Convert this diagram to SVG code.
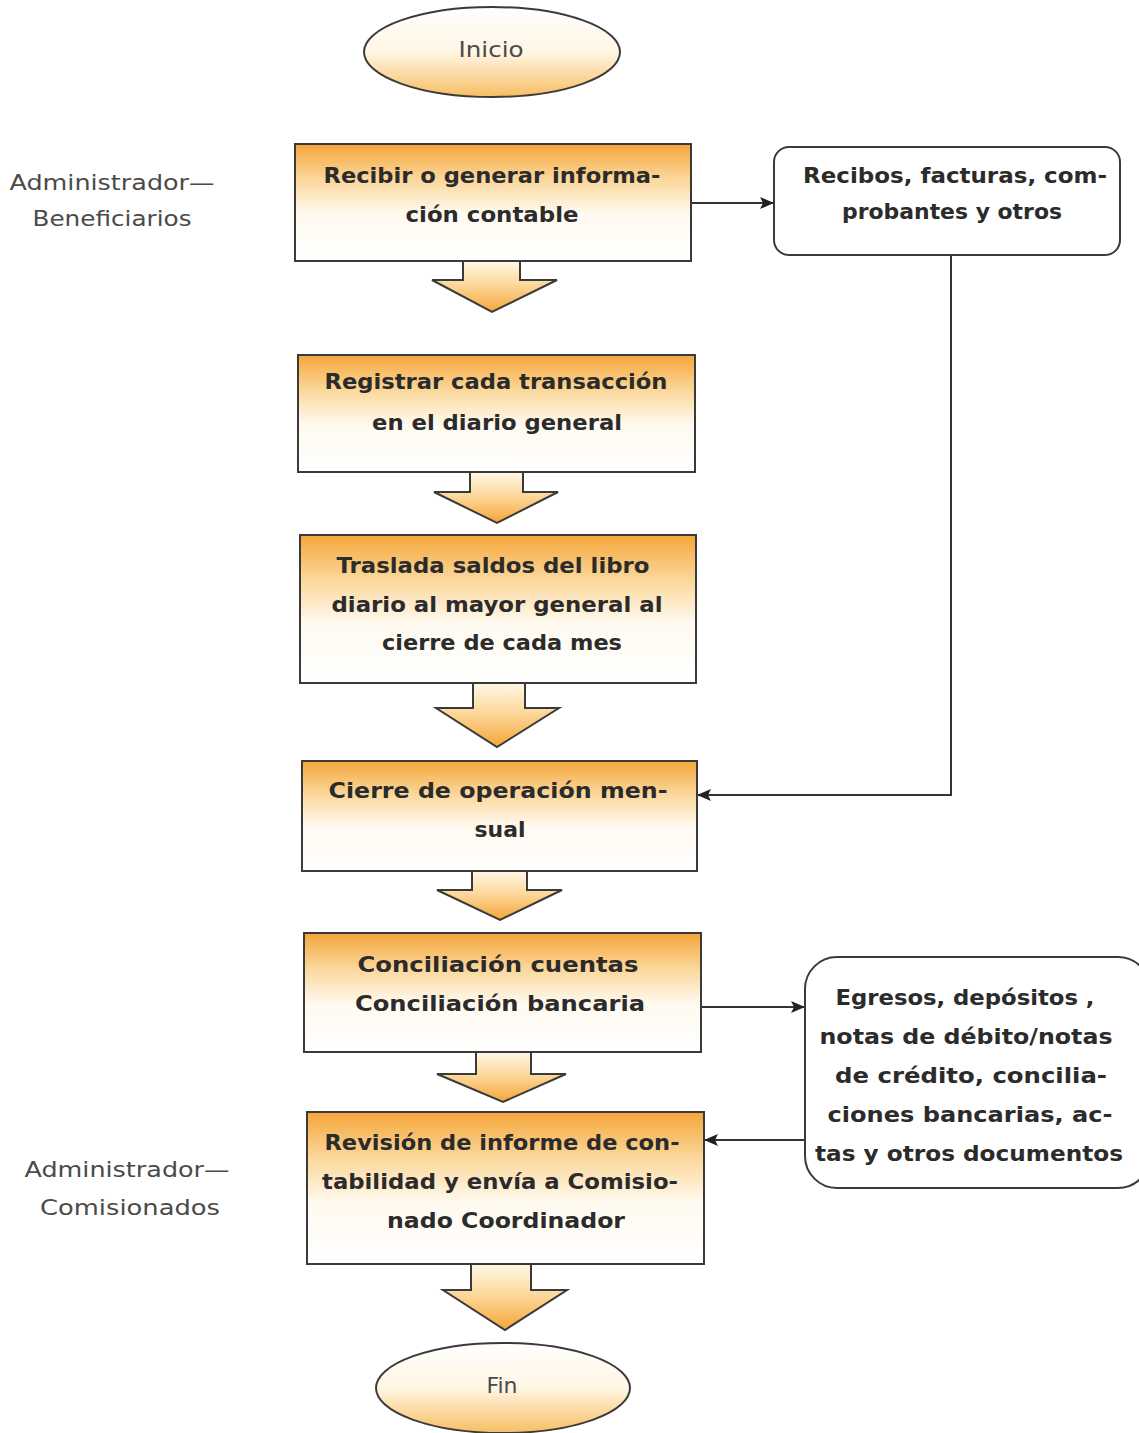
<svg xmlns="http://www.w3.org/2000/svg" width="1139" height="1433" viewBox="0 0 1139 1433">
<style>
.box{stroke:#3a3a3a;stroke-width:2;fill:url(#gBox)}
.arr{stroke:#3a3a3a;stroke-width:2;fill:url(#gArr);stroke-linejoin:miter}
.ell{stroke:#3a3a3a;stroke-width:2;fill:url(#gEll)}
.note{stroke:#3a3a3a;stroke-width:2;fill:#fff}
.t{font-family:"DejaVu Sans",sans-serif;font-weight:bold;font-size:22px;fill:#2b2b2b;text-anchor:middle}
.r{font-family:"DejaVu Sans",sans-serif;font-size:21px;fill:#4a4a4a;text-anchor:middle}
.con{stroke:#333;stroke-width:2;fill:none}
</style>
<defs>
<linearGradient id="gBox" x1="0" y1="0" x2="0" y2="1">
<stop offset="0" stop-color="#f5a53a"/>
<stop offset="0.3" stop-color="#fbd79a"/>
<stop offset="0.6" stop-color="#fffaf0"/>
<stop offset="1" stop-color="#ffffff"/>
</linearGradient>
<linearGradient id="gArr" x1="0" y1="0" x2="0" y2="1">
<stop offset="0" stop-color="#fff8e6"/>
<stop offset="0.5" stop-color="#fcd595"/>
<stop offset="1" stop-color="#f5a53a"/>
</linearGradient>
<linearGradient id="gEll" x1="0" y1="0" x2="0" y2="1">
<stop offset="0" stop-color="#ffffff"/>
<stop offset="0.5" stop-color="#fff6e4"/>
<stop offset="1" stop-color="#f7be62"/>
</linearGradient>
<marker id="ah" markerWidth="14" markerHeight="12" refX="13" refY="6" orient="auto" markerUnits="userSpaceOnUse">
<path d="M0,0 L14,6 L0,12 L3,6 Z" fill="#222"/>
</marker>
</defs>

<g id="connectors">
<path class="con" d="M691,203 L773,203" marker-end="url(#ah)"/>
<path class="con" d="M951,255 L951,795 L698,795" marker-end="url(#ah)"/>
<path class="con" d="M701,1007 L804,1007" marker-end="url(#ah)"/>
<path class="con" d="M805,1140 L705,1140" marker-end="url(#ah)"/>
</g>

<g id="flow-arrows">
<path class="arr" d="M463,261 L463,280 L432,280 L492,312 L557,280 L520,280 L520,261"/>
<path class="arr" d="M470,472 L470,492 L434,492 L497,523 L558,492 L523,492 L523,472"/>
<path class="arr" d="M473,683 L473,708 L436,708 L497,747 L559,708 L525,708 L525,683"/>
<path class="arr" d="M472,871 L472,890 L437,890 L500,920 L562,890 L527,890 L527,871"/>
<path class="arr" d="M476,1052 L476,1074 L437,1074 L503,1102 L566,1074 L531,1074 L531,1052"/>
<path class="arr" d="M471,1264 L471,1290 L443,1290 L505,1330 L567,1290 L531,1290 L531,1264"/>
</g>

<g id="inicio">
<ellipse class="ell" cx="492" cy="52" rx="128" ry="45"/>
<text class="r" x="491" y="57" textLength="65" lengthAdjust="spacingAndGlyphs">Inicio</text>
</g>

<g id="box1">
<rect class="box" x="295" y="144" width="396" height="117"/>
<text class="t" x="492" y="183" textLength="337" lengthAdjust="spacingAndGlyphs">Recibir o generar informa-</text>
<text class="t" x="492" y="222" textLength="173" lengthAdjust="spacingAndGlyphs">ción contable</text>
</g>

<g id="docs1">
<rect class="note" x="774" y="147" width="346" height="108" rx="15"/>
<text class="t" x="955" y="183" textLength="304" lengthAdjust="spacingAndGlyphs">Recibos, facturas, com-</text>
<text class="t" x="952" y="219" textLength="220" lengthAdjust="spacingAndGlyphs">probantes y otros</text>
</g>

<g id="box2">
<rect class="box" x="298" y="355" width="397" height="117"/>
<text class="t" x="496" y="389" textLength="343" lengthAdjust="spacingAndGlyphs">Registrar cada transacción</text>
<text class="t" x="497" y="430" textLength="250" lengthAdjust="spacingAndGlyphs">en el diario general</text>
</g>

<g id="box3">
<rect class="box" x="300" y="535" width="396" height="148"/>
<text class="t" x="493" y="573" textLength="313" lengthAdjust="spacingAndGlyphs">Traslada saldos del libro</text>
<text class="t" x="497" y="612" textLength="331" lengthAdjust="spacingAndGlyphs">diario al mayor general al</text>
<text class="t" x="502" y="650" textLength="240" lengthAdjust="spacingAndGlyphs">cierre de cada mes</text>
</g>

<g id="box4">
<rect class="box" x="302" y="761" width="395" height="110"/>
<text class="t" x="498" y="798" textLength="339" lengthAdjust="spacingAndGlyphs">Cierre de operación men-</text>
<text class="t" x="500" y="837" textLength="51" lengthAdjust="spacingAndGlyphs">sual</text>
</g>

<g id="box5">
<rect class="box" x="304" y="933" width="397" height="119"/>
<text class="t" x="498" y="972" textLength="281" lengthAdjust="spacingAndGlyphs">Conciliación cuentas</text>
<text class="t" x="500" y="1011" textLength="290" lengthAdjust="spacingAndGlyphs">Conciliación bancaria</text>
</g>

<g id="docs2">
<rect class="note" x="805" y="957" width="345" height="231" rx="32"/>
<text class="t" x="965" y="1005" textLength="259" lengthAdjust="spacingAndGlyphs">Egresos, depósitos ,</text>
<text class="t" x="966" y="1044" textLength="293" lengthAdjust="spacingAndGlyphs">notas de débito/notas</text>
<text class="t" x="971" y="1083" textLength="272" lengthAdjust="spacingAndGlyphs">de crédito, concilia-</text>
<text class="t" x="970" y="1122" textLength="285" lengthAdjust="spacingAndGlyphs">ciones bancarias, ac-</text>
<text class="t" x="969" y="1161" textLength="308" lengthAdjust="spacingAndGlyphs">tas y otros documentos</text>
</g>

<g id="box6">
<rect class="box" x="307" y="1112" width="397" height="152"/>
<text class="t" x="502" y="1150" textLength="355" lengthAdjust="spacingAndGlyphs">Revisión de informe de con-</text>
<text class="t" x="500" y="1189" textLength="356" lengthAdjust="spacingAndGlyphs">tabilidad y envía a Comisio-</text>
<text class="t" x="506" y="1228" textLength="238" lengthAdjust="spacingAndGlyphs">nado Coordinador</text>
</g>

<g id="fin">
<ellipse class="ell" cx="503" cy="1388" rx="127" ry="45"/>
<text class="r" x="502" y="1393" textLength="31" lengthAdjust="spacingAndGlyphs">Fin</text>
</g>

<g id="label-beneficiarios">
<text class="r" x="112" y="190" textLength="205" lengthAdjust="spacingAndGlyphs">Administrador—</text>
<text class="r" x="112" y="226" textLength="159" lengthAdjust="spacingAndGlyphs">Beneficiarios</text>
</g>

<g id="label-comisionados">
<text class="r" x="127" y="1177" textLength="205" lengthAdjust="spacingAndGlyphs">Administrador—</text>
<text class="r" x="130" y="1215" textLength="180" lengthAdjust="spacingAndGlyphs">Comisionados</text>
</g>
</svg>
